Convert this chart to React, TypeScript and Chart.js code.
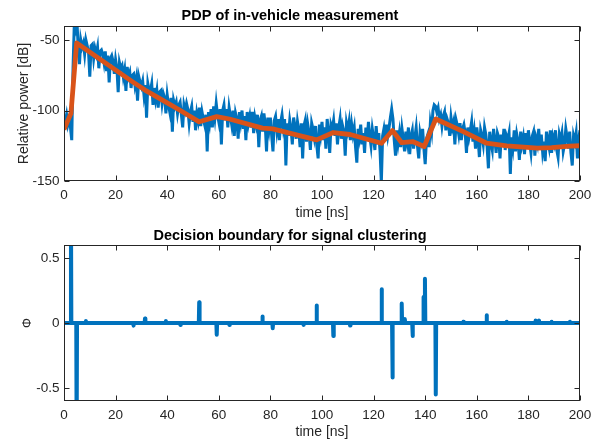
import React, { useEffect, useRef } from "react";
import { Chart, registerables } from "chart.js";

Chart.register(...registerables);

// ---------- Data ----------
// Measured PDP, one sample every 0.5 ns from 0 to 200 ns (dB)
const pdpStepNs = 0.5;
const pdpPower: number[] = [
  -104, -108, -103, -110, -106, -112, -121, -70, -38, -42,
  -36, -55, -67, -50, -55, -52, -60, -50, -54, -58,
  -76, -54, -53, -63, -56, -60, -55, -70, -58, -57,
  -60, -66, -58, -72, -61, -80, -63, -61, -65, -74,
  -64, -70, -87, -66, -70, -68, -76, -71, -86, -69,
  -76, -73, -84, -75, -74, -82, -77, -93, -76, -80,
  -83, -79, -89, -82, -105, -81, -86, -86, -81, -96,
  -84, -92, -86, -98, -87, -86, -95, -88, -91, -102,
  -89, -96, -101, -91, -115, -93, -97, -94, -102, -96,
  -94, -103, -112, -96, -100, -95, -99, -109, -101, -97,
  -108, -100, -114, -102, -107, -98, -111, -101, -106, -110,
  -103, -129, -101, -108, -99, -112, -97, -105, -95, -103,
  -108, -99, -124, -100, -96, -107, -99, -112, -98, -104,
  -110, -100, -118, -102, -106, -120, -101, -108, -100, -113,
  -104, -121, -101, -109, -104, -112, -101, -116, -105, -110,
  -103, -126, -107, -104, -115, -102, -110, -129, -105, -113,
  -105, -118, -129, -107, -104, -114, -106, -121, -108, -103,
  -112, -106, -139, -109, -118, -107, -113, -124, -105, -111,
  -120, -108, -114, -126, -109, -134, -111, -107, -122, -110,
  -116, -128, -109, -113, -119, -111, -125, -134, -110, -117,
  -108, -121, -112, -127, -106, -115, -130, -110, -113, -107,
  -118, -109, -124, -112, -106, -120, -111, -115, -132, -109,
  -114, -108, -121, -110, -117, -112, -126, -137, -113, -119,
  -110, -124, -116, -130, -112, -121, -108, -118, -125, -113,
  -119, -128, -111, -124, -116, -129, -151, -118, -113, -121,
  -110, -118, -112, -105, -99, -106, -121, -132, -114, -123,
  -116, -126, -113, -120, -129, -115, -122, -112, -131, -118,
  -114, -127, -119, -112, -125, -134, -116, -121, -113, -127,
  -138, -120, -117, -126, -109, -115, -100, -96, -97, -101,
  -98, -106, -103, -111, -104, -101, -114, -106, -109, -118,
  -105, -112, -108, -124, -107, -111, -117, -109, -121, -113,
  -110, -116, -130, -112, -119, -114, -108, -122, -115, -127,
  -112, -120, -133, -114, -118, -124, -112, -117, -126, -141,
  -115, -123, -128, -113, -121, -130, -116, -119, -134, -117,
  -125, -113, -128, -118, -121, -116, -145, -119, -126, -114,
  -129, -117, -122, -135, -115, -124, -119, -131, -116, -126,
  -114, -123, -130, -118, -115, -132, -120, -124, -113, -127,
  -117, -129, -122, -136, -115, -121, -126, -114, -130, -119,
  -123, -114, -128, -133, -117, -121, -116, -129, -124, -113,
  -119, -127, -115, -130, -139, -118, -122, -116, -134, -120,
  -114,
];

// Piecewise-linear cluster fit (orange)
const fitTimes: number[] = [
  0, 2.7, 4.9, 26.9, 31.4, 39.5, 45.1, 52.4, 59.2, 64.1, 76.9, 80.9,
  92.8, 97.9, 104.4, 110.9, 123.1, 127.3, 130.9, 135.1, 139.6, 144.1,
  154.8, 163.8, 171.6, 183.5, 189, 196, 200,
];
const fitPower: number[] = [
  -113.5, -102, -52, -80, -85.5, -94, -100, -108, -104.3, -106, -112.5, -113,
  -118.5, -120.8, -115.6, -117, -123.2, -114.2, -122.8, -122, -125.5, -106,
  -115, -123.2, -125, -126.7, -126.3, -125.3, -125,
];

// Decision boundary spikes (bottom)
const spikeTimes: number[] = [
  2.7, 4.9, 8.5, 26.9, 31.4, 39.5, 45.1, 52.4, 59.2, 64.1, 76.9, 80.9,
  92.8, 97.9, 104.4, 110.9, 123.1, 127.3, 130.9, 132.1, 135.1, 139.3, 139.9,
  144.1, 154.8, 163.8, 171.6, 182.8, 184.1, 189.0, 196.1,
];
const spikeValues: number[] = [
  0.9, -0.9, 0.015, -0.02, 0.035, 0.015, -0.015, 0.16, -0.09, -0.015, 0.05, -0.04,
  -0.015, 0.135, -0.1, -0.02, 0.26, -0.42, 0.15, 0.03, -0.1, 0.2, 0.34,
  -0.55, 0.01, 0.06, 0.01, 0.02, 0.02, 0.01, 0.01,
];

const xTickStep = 20;
const topYTicks = [-150, -100, -50];
const bottomYTicks = [-0.5, 0, 0.5];

// ---------- Styling ----------
const FONT = "'Liberation Sans', Arial, Helvetica, sans-serif";
const AXIS_COLOR = "#262626";
const BLUE = "#0072BD";
const ORANGE = "#D95319";

const boxTicks = {
  id: "boxTicks",
  afterDraw(chart: any) {
    const { ctx, chartArea: a, scales } = chart;
    const xs = scales.x;
    const ys = scales.y;
    ctx.save();
    ctx.strokeStyle = AXIS_COLOR;
    ctx.lineWidth = 1;
    const L = Math.round(a.left) + 0.5;
    const R = Math.round(a.right) - 0.5;
    const T = Math.round(a.top) + 0.5;
    const B = Math.round(a.bottom) - 0.5;
    ctx.strokeRect(L, T, R - L, B - T);
    const len = 5;
    ctx.beginPath();
    xs.ticks.forEach((t: any) => {
      const px = Math.round(xs.getPixelForValue(t.value)) + 0.5;
      ctx.moveTo(px, B);
      ctx.lineTo(px, B - len);
      ctx.moveTo(px, T);
      ctx.lineTo(px, T + len);
    });
    ys.ticks.forEach((t: any) => {
      const py = Math.round(ys.getPixelForValue(t.value)) + 0.5;
      ctx.moveTo(L, py);
      ctx.lineTo(L + len, py);
      ctx.moveTo(R, py);
      ctx.lineTo(R - len, py);
    });
    ctx.stroke();
    ctx.restore();
  },
};

function makeOptions(p: {
  title: string;
  titlePad: { top: number; bottom: number };
  yMin: number;
  yMax: number;
  yTicks: number[];
  yTitle: string;
  yTitleSize: number;
  yTitlePad: number;
  xAxisHeight: number;
}) {
  return {
    animation: false,
    responsive: false,
    maintainAspectRatio: false,
    events: [],
    layout: { padding: { left: 0, right: 28, top: 0, bottom: 0 } },
    plugins: {
      legend: { display: false },
      tooltip: { enabled: false },
      title: {
        display: true,
        text: p.title,
        color: "#000000",
        font: { family: FONT, size: 14.5, weight: "bold" },
        padding: p.titlePad,
      },
    },
    scales: {
      x: {
        type: "linear",
        min: 0,
        max: 200,
        ticks: {
          stepSize: xTickStep,
          color: AXIS_COLOR,
          font: { family: FONT, size: 13.5 },
          padding: 6,
          maxRotation: 0,
          autoSkip: false,
        },
        grid: { display: false, drawTicks: false },
        border: { display: false },
        title: {
          display: true,
          text: "time [ns]",
          color: AXIS_COLOR,
          font: { family: FONT, size: 14 },
          padding: { top: 0, bottom: 0 },
        },
        afterFit: (s: any) => {
          s.height = p.xAxisHeight;
        },
      },
      y: {
        type: "linear",
        min: p.yMin,
        max: p.yMax,
        afterBuildTicks: (s: any) => {
          s.ticks = p.yTicks.map((v) => ({ value: v }));
        },
        ticks: {
          color: AXIS_COLOR,
          font: { family: FONT, size: 13.5 },
          padding: 4.5,
        },
        grid: { display: false, drawTicks: false },
        border: { display: false },
        title: {
          display: true,
          text: p.yTitle,
          color: AXIS_COLOR,
          font: { family: FONT, size: p.yTitleSize },
          padding: { top: p.yTitlePad, bottom: 0 },
        },
        afterFit: (s: any) => {
          s.width = 64;
        },
      },
    },
  };
}

export default function App() {
  const topRef = useRef<HTMLCanvasElement | null>(null);
  const botRef = useRef<HTMLCanvasElement | null>(null);

  useEffect(() => {
    const pdpPoints = pdpPower.map((v, i) => ({ x: i * pdpStepNs, y: v }));
    const fitPoints = fitTimes.map((t, i) => ({ x: t, y: fitPower[i] }));

    const phiPoints: { x: number; y: number }[] = [{ x: 0, y: 0 }];
    spikeTimes.forEach((t, i) => {
      phiPoints.push({ x: t - 0.15, y: 0 });
      phiPoints.push({ x: t, y: spikeValues[i] });
      phiPoints.push({ x: t + 0.15, y: 0 });
    });
    phiPoints.push({ x: 200, y: 0 });

    const top = new Chart(topRef.current as HTMLCanvasElement, {
      type: "line",
      data: {
        datasets: [
          {
            data: fitPoints,
            borderColor: ORANGE,
            borderWidth: 4.8,
            pointRadius: 0,
            tension: 0,
            borderJoinStyle: "round",
          },
          {
            data: pdpPoints,
            borderColor: BLUE,
            borderWidth: 3,
            pointRadius: 0,
            tension: 0,
          },
        ],
      },
      options: makeOptions({
        title: "PDP of in-vehicle measurement",
        titlePad: { top: 7, bottom: 1.6 },
        yMin: -150,
        yMax: -40,
        yTicks: topYTicks,
        yTitle: "Relative power [dB]",
        yTitleSize: 14,
        yTitlePad: 15.8,
        xAxisHeight: 41,
      }) as any,
      plugins: [boxTicks],
    });

    const bot = new Chart(botRef.current as HTMLCanvasElement, {
      type: "line",
      data: {
        datasets: [
          {
            data: phiPoints,
            borderColor: BLUE,
            borderWidth: 4,
            pointRadius: 0,
            tension: 0,
            borderJoinStyle: "round",
            borderCapStyle: "round",
          },
        ],
      },
      options: makeOptions({
        title: "Decision boundary for signal clustering",
        titlePad: { top: 5, bottom: 0.6 },
        yMin: -0.6,
        yMax: 0.6,
        yTicks: bottomYTicks,
        yTitle: "Φ",
        yTitleSize: 12.5,
        yTitlePad: 20.5,
        xAxisHeight: 40,
      }) as any,
      plugins: [boxTicks],
    });

    return () => {
      top.destroy();
      bot.destroy();
    };
  }, []);

  return (
    <div
      style={{
        position: "fixed",
        left: 0,
        top: 0,
        width: 608,
        height: 441,
        background: "#ffffff",
      }}
    >
      <canvas
        ref={topRef}
        width={608}
        height={222}
        style={{ position: "absolute", left: 0, top: 0, width: 608, height: 222, display: "block" }}
      />
      <canvas
        ref={botRef}
        width={608}
        height={219}
        style={{ position: "absolute", left: 0, top: 222, width: 608, height: 219, display: "block" }}
      />
    </div>
  );
}
